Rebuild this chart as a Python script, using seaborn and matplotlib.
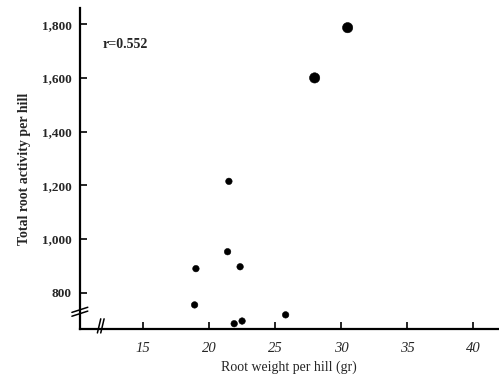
import pandas as pd
import seaborn as sns
import matplotlib.pyplot as plt

# Root weight vs total root activity
root_weight = [18.9, 19.0, 21.4, 21.5, 22.35, 21.9, 22.5, 25.8, 28.0, 30.5]
root_activity = [755, 890, 953, 1215, 897, 685, 695, 718, 1600, 1787]
dot_size = [22, 22, 22, 22, 22, 22, 22, 22, 55, 55]
x_ticks = [15, 20, 25, 30, 35, 40]
y_ticks = [800, 1000, 1200, 1400, 1600, 1800]
y_tick_labels = ['800', '1,000', '1,200', '1,400', '1,600', '1,800']

df = pd.DataFrame({'weight': root_weight, 'activity': root_activity, 'size': dot_size})

sns.set_style('ticks')
plt.rcParams['font.family'] = ['Liberation Serif', 'DejaVu Serif']

fig = plt.figure(figsize=(4.99, 3.84), dpi=100)
ax = fig.add_axes([0.160, 0.143, 0.838, 0.836])

sns.scatterplot(x='weight', y='activity', data=df, size='size', sizes=(22, 55),
                color='black', edgecolor='black', legend=False, ax=ax)

ax.set_xlim(10.2, 41.9)
ax.set_ylim(665, 1860)
ax.set_xticks(x_ticks)
ax.set_xticklabels([str(t) for t in x_ticks], fontsize=10.5, style='italic')
ax.set_yticks(y_ticks)
ax.set_yticklabels(y_tick_labels, fontsize=9.5, fontweight='bold')
ax.tick_params(direction='in', length=5, width=1.2, color='black', pad=6)
ax.tick_params(axis='x', pad=9)

sns.despine(ax=ax)
for side in ['left', 'bottom']:
    ax.spines[side].set_linewidth(1.6)
    ax.spines[side].set_color('black')

ax.set_xlabel('Root weight per hill (gr)', fontsize=10, labelpad=4)
ax.set_ylabel('Total root activity per hill', fontsize=10, fontweight='bold', labelpad=8)

ax.text(0.055, 0.875, 'r=0.552', transform=ax.transAxes, fontsize=10, fontweight='bold')

# axis break marks
for dy in (0, 0.012):
    ax.plot([-0.019, 0.019], [0.040 + dy, 0.056 + dy], transform=ax.transAxes,
            color='black', lw=1.1, clip_on=False)
for dx in (0, 0.008):
    ax.plot([0.042 + dx, 0.050 + dx], [-0.012, 0.032], transform=ax.transAxes,
            color='black', lw=1.1, clip_on=False)

plt.savefig('out.png', dpi=100)
